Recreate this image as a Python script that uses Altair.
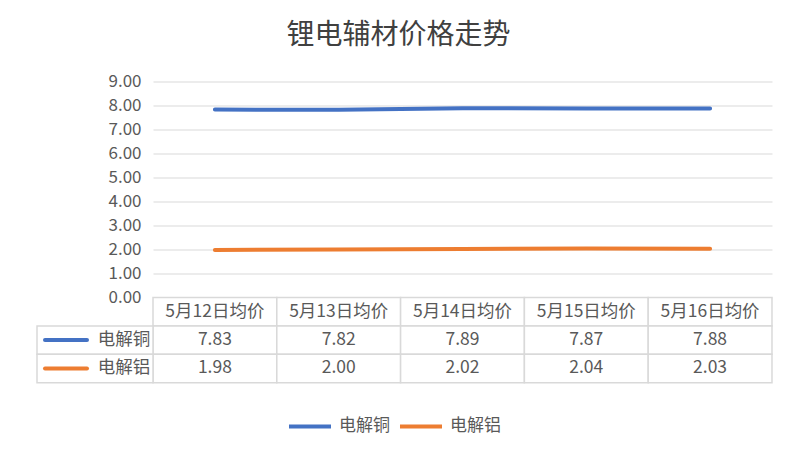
import altair as alt
import pandas as pd

# ---- data ----
dates = ["5月12日均价", "5月13日均价", "5月14日均价", "5月15日均价", "5月16日均价"]
series_names = ["电解铜", "电解铝"]
copper = [7.83, 7.82, 7.89, 7.87, 7.88]
aluminum = [1.98, 2.00, 2.02, 2.04, 2.03]
colors = ["#4472C4", "#ED7D31"]
y_ticks = [0, 1, 2, 3, 4, 5, 6, 7, 8, 9]
chart_title = "锂电辅材价格走势"

FONT = "Noto Sans CJK SC"
TXT = "#595959"
GRID = "#d9d9d9"
W = 619
PLOT_H = 216
ROW_H = 28.4
H = PLOT_H + 3 * ROW_H
rows = ["header"] + series_names

recs = []
for s, vals in zip(series_names, [copper, aluminum]):
    for d, v in zip(dates, vals):
        recs.append({"date": d, "series": s, "value": v, "text": f"{v:.2f}", "row": s})
df = pd.DataFrame(recs)
header_df = pd.DataFrame({"date": dates, "text": dates, "row": ["header"] * len(dates)})
cells_df = pd.concat([header_df, df[["date", "text", "row"]]], ignore_index=True)
label_df = pd.DataFrame({
    "series": series_names, "row": series_names,
    "col": ["label"] * 2, "sw": ["swatch"] * 2, "nm": ["name"] * 2,
})

color_enc = alt.Color(
    "series:N",
    scale=alt.Scale(domain=series_names, range=colors),
    legend=alt.Legend(
        orient="none", legendX=134, legendY=322, direction="horizontal",
        title=None, symbolType="stroke", symbolSize=1764, symbolStrokeWidth=4,
        labelFont=FONT, labelFontSize=17, labelColor=TXT,
        labelOffset=6, columnPadding=2,
    ),
)

x_line = alt.X("date:N", scale=alt.Scale(type="point", domain=dates, range=[0, W], padding=0.5), axis=None)
y_val = alt.Y(
    "value:Q",
    scale=alt.Scale(domain=[0, 9], range=[PLOT_H, 0], nice=False, zero=True),
    axis=alt.Axis(
        values=y_ticks, format=".2f", title=None, grid=True, gridColor=GRID,
        gridWidth=1, domain=False, ticks=False, tickSize=0, labelPadding=12,
        labelFont=FONT, labelFontSize=17, labelColor=TXT,
    ),
)

lines = alt.Chart(df).mark_line(strokeWidth=4, strokeCap="round", strokeJoin="round").encode(
    x=x_line, y=y_val, color=color_enc
)

x_cell = alt.X("date:N", scale=alt.Scale(type="band", domain=dates, range=[0, W], paddingInner=0, paddingOuter=0),
               axis=None, bandPosition=0.5)
y_row = alt.Y("row:N", scale=alt.Scale(type="band", domain=rows, range=[PLOT_H, H], paddingInner=0, paddingOuter=0),
              axis=None, bandPosition=0.5)

cells = alt.Chart(cells_df).mark_rect(fill="white", stroke=GRID, strokeWidth=1.5).encode(
    x=alt.X("date:N", scale=alt.Scale(type="band", domain=dates, range=[0, W], paddingInner=0, paddingOuter=0), axis=None),
    y=alt.Y("row:N", scale=alt.Scale(type="band", domain=rows, range=[PLOT_H, H], paddingInner=0, paddingOuter=0), axis=None),
)
cell_text = alt.Chart(cells_df).mark_text(font=FONT, fontSize=17.5, color=TXT, baseline="middle").encode(
    x=x_cell, y=y_row, text="text:N"
)

label_cells = alt.Chart(label_df).mark_rect(fill="white", stroke=GRID, strokeWidth=1.5).encode(
    x=alt.X("col:N", scale=alt.Scale(type="band", domain=["label"], range=[-116, 0], paddingInner=0, paddingOuter=0), axis=None),
    y=alt.Y("row:N", scale=alt.Scale(type="band", domain=rows, range=[PLOT_H, H], paddingInner=0, paddingOuter=0), axis=None),
)
lab_x_scale = alt.Scale(type="band", domain=["swatch", "name"], range=[-116, 0], paddingInner=0, paddingOuter=0)
swatches = alt.Chart(label_df).mark_point(shape="stroke", size=1764, strokeWidth=4, strokeCap="round", filled=False, opacity=1).encode(
    x=alt.X("sw:N", scale=lab_x_scale, axis=None, bandPosition=0.5),
    y=y_row,
    color=color_enc,
)
names = alt.Chart(label_df).mark_text(font=FONT, fontSize=17.5, color=TXT, baseline="middle").encode(
    x=alt.X("nm:N", scale=lab_x_scale, axis=None, bandPosition=0.5),
    y=y_row,
    text="series:N",
)

chart = alt.layer(lines, cells, cell_text, label_cells, swatches, names).resolve_scale(
    x="independent", y="independent"
).properties(
    width=W, height=H,
    title=alt.Title(chart_title, font=FONT, fontSize=28, fontWeight="normal", color="#404040",
                    anchor="middle", frame="bounds", offset=22.5, dx=-6),
    padding={"left": 28, "top": 13.5, "right": 10, "bottom": 10},
    background="white",
).configure_view(stroke=None)

chart.save("out.html", embed_options={"renderer": "svg", "actions": False})
